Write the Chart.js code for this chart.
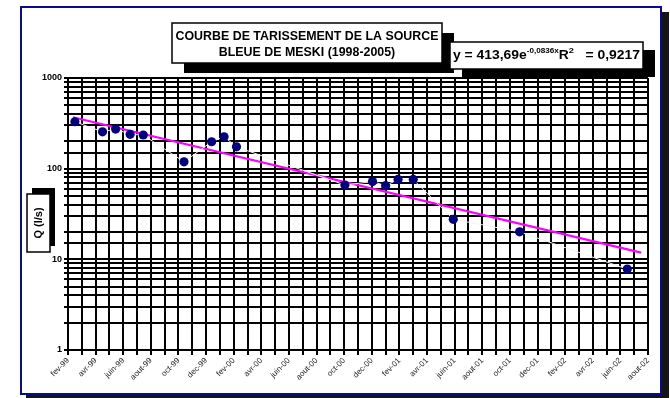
<!DOCTYPE html>
<html>
<head>
<meta charset="utf-8">
<script src="https://cdn.jsdelivr.net/npm/chart.js@4/dist/chart.umd.min.js"></script>
<style>
  html, body { margin: 0; padding: 0; background: #fff; }
  #wrap { width: 670px; height: 398px; }
</style>
</head>
<body>
<div id="wrap"><canvas id="c" width="670" height="398"></canvas></div>
<script>
// Texts
const titleLines = ['COURBE DE TARISSEMENT DE LA SOURCE', 'BLEUE DE MESKI (1998-2005)'];
const yAxisTitle = 'Q (l/s)';

// Month axis: 0 = fev-99 ... 42 = aout-02, one label every two months
const tickLabels = ['fev-99', 'avr-99', 'juin-99', 'aout-99', 'oct-99', 'dec-99',
                    'fev-00', 'avr-00', 'juin-00', 'aout-00', 'oct-00', 'dec-00',
                    'fev-01', 'avr-01', 'juin-01', 'aout-01', 'oct-01', 'dec-01',
                    'fev-02', 'avr-02', 'juin-02', 'aout-02'];
const monthCount = 42;

// Measured discharge of the spring (l/s), by month position
const sampleMonths = [0.5, 2.5, 3.45, 4.5, 5.45, 8.4, 10.4, 11.3, 12.2,
                      20.05, 22.05, 23.0, 23.9, 25.0, 27.9, 32.7, 40.5];
const flowValues   = [329, 255, 273, 239, 235, 119, 198, 225, 174,
                      66, 72, 65, 76, 76, 27.6, 20.1, 7.8];

// Exponential recession fit: y = a * e^(b * x), x counted in months from 1
const trendA = 413.69;
const trendB = -0.0836;
const rSquared = '0,9217';
const trendSpan = [0.36, 41.5];

const decadeLabels = [1, 10, 100, 1000];

const FONT = '"Liberation Sans", Arial, sans-serif';

const trendPoints = trendSpan.map(m => ({ x: m, y: trendA * Math.exp(trendB * (m + 1)) }));
const samplePoints = sampleMonths.map((m, i) => ({ x: m, y: flowValues[i] }));

const decor = {
  id: 'decor',
  beforeDraw(chart) {
    const ctx = chart.ctx;
    ctx.save();
    ctx.fillStyle = '#fff';
    ctx.fillRect(0, 0, chart.width, chart.height);
    // outer frame with drop shadow
    ctx.fillStyle = '#151515';
    ctx.fillRect(26, 12, 643, 386);
    ctx.fillStyle = '#fff';
    ctx.fillRect(21, 7, 640, 387);
    ctx.strokeStyle = '#0a0a8c';
    ctx.lineWidth = 2;
    ctx.strokeRect(21, 7, 640, 387);
    ctx.restore();
  },
  afterDraw(chart) {
    const ctx = chart.ctx;
    ctx.save();

    function box(x, y, w, h, dx, dy) {
      ctx.fillStyle = '#000';
      ctx.fillRect(x + dx, y + dy, w, h);
      ctx.fillStyle = '#fff';
      ctx.fillRect(x, y, w, h);
      ctx.strokeStyle = '#000';
      ctx.lineWidth = 1.5;
      ctx.strokeRect(x, y, w, h);
    }

    // title box
    box(172, 23, 270, 40, 12, 10);
    ctx.fillStyle = '#000';
    ctx.font = 'bold 12px ' + FONT;
    ctx.textBaseline = 'middle';
    ctx.textAlign = 'center';
    const w1 = ctx.measureText(titleLines[0]).width;
    const sx = 263 / w1;
    ctx.save();
    ctx.translate(307, 0);
    ctx.scale(sx, 1);
    ctx.fillText(titleLines[0], 0, 37);
    ctx.fillText(titleLines[1], 0, 53);
    ctx.restore();

    // equation box
    box(450, 42, 193, 27, 12, 8);
    const coef = String(trendA).replace('.', ',');
    const expo = String(trendB).replace('.', ',') + 'x';
    const parts = [
      { t: 'y = ' + coef + 'e', f: 'bold 12px ', dy: 0 },
      { t: expo, f: 'bold 7px ', dy: -5 },
      { t: 'R', f: 'bold 12px ', dy: 0 },
      { t: '2', f: 'bold 8px ', dy: -5 },
      { t: '   = ' + rSquared, f: 'bold 12px ', dy: 0 }
    ];
    let total = 0;
    parts.forEach(p => { ctx.font = p.f + FONT; p.w = ctx.measureText(p.t).width; total += p.w; });
    const se = 187 / total;
    ctx.save();
    ctx.translate(453, 56);
    ctx.scale(se, 1);
    ctx.fillStyle = '#000';
    ctx.textAlign = 'left';
    ctx.textBaseline = 'middle';
    let cx = 0;
    parts.forEach(p => { ctx.font = p.f + FONT; ctx.fillText(p.t, cx, p.dy); cx += p.w; });
    ctx.restore();

    // y axis title box
    box(27, 194, 23, 58, 5, -6);
    ctx.save();
    ctx.translate(39, 223);
    ctx.rotate(-Math.PI / 2);
    ctx.font = 'bold 11px ' + FONT;
    ctx.textAlign = 'center';
    ctx.textBaseline = 'middle';
    ctx.fillStyle = '#000';
    ctx.fillText(yAxisTitle, 0, 0);
    ctx.restore();

    ctx.restore();
  }
};

new Chart(document.getElementById('c'), {
  type: 'scatter',
  data: {
    datasets: [
      {
        data: samplePoints,
        showLine: true,
        borderColor: '#f2f2f2',
        borderWidth: 1,
        pointRadius: 4.6,
        pointBackgroundColor: '#000080',
        pointBorderColor: '#000080',
        pointBorderWidth: 0,
        order: 0
      },
      {
        data: trendPoints,
        showLine: true,
        borderColor: '#ff00ff',
        borderWidth: 2.2,
        pointRadius: 0,
        order: 1
      }
    ]
  },
  options: {
    responsive: false,
    animation: false,
    devicePixelRatio: 1,
    layout: { autoPadding: false, padding: { left: 21, right: 22, top: 78, bottom: 8 } },
    plugins: { legend: { display: false }, tooltip: { enabled: false } },
    scales: {
      x: {
        type: 'linear',
        min: 0,
        max: monthCount,
        afterFit(s) { s.height = 40; },
        ticks: {
          stepSize: 1,
          autoSkip: false,
          maxRotation: 45,
          minRotation: 45,
          padding: 1,
          color: '#222',
          font: { family: FONT, size: 8 },
          callback: v => (v % 2 === 0 ? tickLabels[v / 2] : '')
        },
        grid: { color: '#000', lineWidth: 2, tickLength: 5 },
        border: { color: '#000', width: 2 }
      },
      y: {
        type: 'logarithmic',
        min: 1,
        max: 1000,
        afterFit(s) { s.width = 47; },
        ticks: {
          autoSkip: false,
          padding: 2,
          color: '#000',
          font: { family: FONT, size: 9, weight: 'bold' },
          callback: v => (decadeLabels.includes(v) ? String(v) : '')
        },
        grid: { color: '#000', lineWidth: 2, tickLength: 4 },
        border: { color: '#000', width: 2 }
      }
    }
  },
  plugins: [decor]
});
</script>
</body>
</html>
